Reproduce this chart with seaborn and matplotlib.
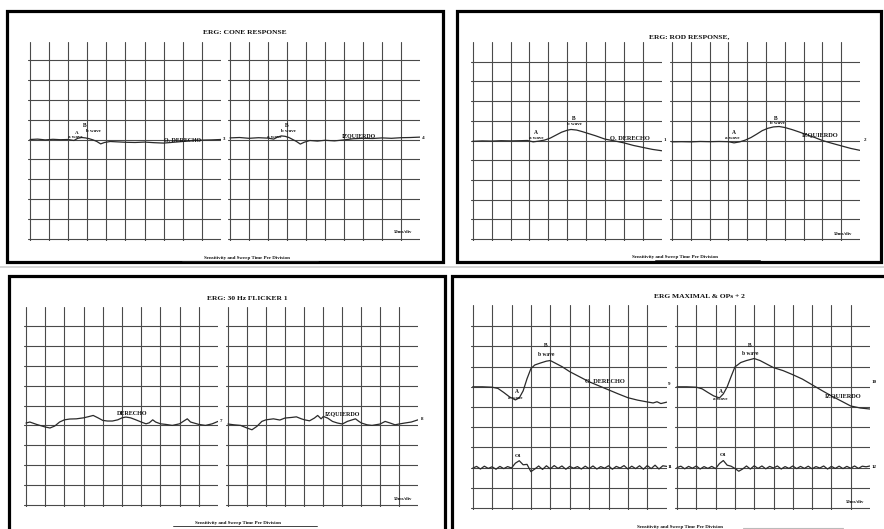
import matplotlib
matplotlib.use("Agg")
import matplotlib.pyplot as plt
import seaborn as sns
from matplotlib.patches import Rectangle
from matplotlib.lines import Line2D

# trace values, x in grid divisions, y in grid rows
cone_od_x = [0, 0.4, 0.8, 1.2, 1.6, 2.0, 2.3, 2.5, 2.7, 2.9, 3.1, 3.3, 3.5, 3.7, 3.9, 4.2, 4.6, 5.0, 5.5, 6.0, 6.5, 7.0, 7.5, 8.0, 8.5, 9.0, 9.5, 10.0]
cone_od_y = [5.0, 5.02, 4.98, 5.01, 4.99, 5.0, 4.95, 5.06, 5.1, 5.08, 5.04, 4.98, 4.9, 4.78, 4.85, 4.9, 4.88, 4.86, 4.85, 4.87, 4.84, 4.82, 4.86, 4.9, 4.95, 4.97, 4.98, 5.0]
cone_oi_x = [0, 0.5, 1.0, 1.5, 2.0, 2.3, 2.5, 2.7, 2.9, 3.1, 3.3, 3.5, 3.7, 3.9, 4.2, 4.6, 5.0, 5.5, 6.0, 6.5, 7.0, 7.5, 8.0, 8.5, 9.0, 9.5, 10.0]
cone_oi_y = [5.08, 5.1, 5.06, 5.09, 5.07, 5.02, 5.12, 5.18, 5.16, 5.1, 5.0, 4.9, 4.77, 4.86, 4.95, 4.92, 4.96, 4.93, 4.98, 5.04, 5.06, 5.05, 5.08, 5.06, 5.09, 5.1, 5.12]

rod_od_x = [0, 0.5, 1.0, 1.5, 2.0, 2.5, 2.9, 3.2, 3.5, 3.8, 4.1, 4.4, 4.7, 5.0, 5.2, 5.5, 5.8, 6.1, 6.5, 7.0, 7.5, 8.0, 8.5, 9.0, 9.5, 10.0]
rod_od_y = [4.96, 4.98, 4.97, 4.99, 4.98, 4.99, 5.0, 4.93, 4.97, 5.02, 5.12, 5.27, 5.42, 5.52, 5.56, 5.53, 5.45, 5.36, 5.24, 5.07, 4.98, 4.88, 4.75, 4.65, 4.55, 4.48]
rod_oi_x = [0, 0.5, 1.0, 1.5, 2.0, 2.5, 3.0, 3.3, 3.6, 3.9, 4.2, 4.5, 4.8, 5.1, 5.4, 5.7, 6.0, 6.4, 6.8, 7.2, 7.6, 8.0, 8.5, 9.0, 9.5, 10.0]
rod_oi_y = [4.93, 4.94, 4.93, 4.95, 4.94, 4.95, 4.94, 4.88, 4.93, 5.02, 5.15, 5.32, 5.5, 5.62, 5.69, 5.71, 5.66, 5.55, 5.42, 5.28, 5.15, 5.0, 4.86, 4.73, 4.6, 4.5]

flick_od_x = [0, 0.2, 0.55, 1.0, 1.25, 1.5, 1.75, 2.0, 2.28, 2.62, 3.0, 3.3, 3.5, 3.75, 4.0, 4.25, 4.5, 4.78, 5.0, 5.2, 5.45, 5.72, 6.0, 6.25, 6.42, 6.6, 6.75, 7.0, 7.28, 7.62, 8.0, 8.22, 8.4, 8.57, 9.0, 9.35, 9.7, 10.0]
flick_od_y = [4.12, 4.17, 4.05, 3.92, 3.87, 3.97, 4.17, 4.28, 4.32, 4.33, 4.38, 4.45, 4.5, 4.38, 4.25, 4.22, 4.22, 4.28, 4.38, 4.42, 4.38, 4.28, 4.17, 4.08, 4.13, 4.28, 4.17, 4.08, 4.05, 4.0, 4.08, 4.22, 4.33, 4.17, 4.05, 4.0, 4.08, 4.2]
flick_oi_x = [0, 0.31, 0.66, 1.0, 1.26, 1.52, 1.78, 2.0, 2.39, 2.73, 3.0, 3.34, 3.6, 3.86, 4.03, 4.29, 4.55, 4.72, 4.9, 5.02, 5.24, 5.5, 5.76, 6.02, 6.28, 6.54, 6.71, 6.89, 7.02, 7.32, 7.58, 8.01, 8.27, 8.53, 8.79, 9.0, 9.31, 9.65, 10.0]
flick_oi_y = [4.07, 4.03, 4.0, 3.87, 3.78, 3.95, 4.2, 4.28, 4.33, 4.27, 4.37, 4.4, 4.43, 4.33, 4.28, 4.23, 4.37, 4.5, 4.33, 4.45, 4.37, 4.2, 4.12, 4.07, 4.2, 4.28, 4.33, 4.2, 4.12, 4.03, 4.0, 4.07, 4.2, 4.12, 4.03, 4.07, 4.12, 4.17, 4.28]

max_od_x = [0, 0.5, 1.0, 1.3, 1.6, 1.9, 2.2, 2.4, 2.6, 2.8, 3.0, 3.2, 3.5, 3.8, 4.0, 4.3, 4.6, 5.0, 5.5, 6.0, 6.5, 7.0, 7.5, 8.0, 8.5, 9.0, 9.3, 9.5, 9.7, 10.0]
max_od_y = [6.0, 6.0, 5.98, 5.92, 5.72, 5.5, 5.35, 5.45, 5.8, 6.4, 6.9, 7.08, 7.18, 7.27, 7.3, 7.15, 7.0, 6.75, 6.5, 6.25, 6.05, 5.85, 5.65, 5.46, 5.34, 5.25, 5.2, 5.26, 5.17, 5.24]
max_oi_x = [0, 0.5, 1.0, 1.3, 1.6, 1.9, 2.2, 2.4, 2.6, 2.8, 3.0, 3.3, 3.6, 4.0, 4.3, 4.6, 5.0, 5.5, 6.0, 6.5, 7.0, 7.5, 8.0, 8.5, 9.0, 9.5, 10.0]
max_oi_y = [6.0, 6.0, 5.98, 5.9, 5.72, 5.55, 5.45, 5.65, 6.0, 6.5, 6.98, 7.2, 7.3, 7.4, 7.3, 7.15, 6.95, 6.8, 6.6, 6.38, 6.1, 5.82, 5.55, 5.3, 5.05, 4.95, 4.9]

ops_x = [i / 5 for i in range(51)]
ops_od_y = [1.97, 2.06, 1.93, 2.07, 1.96, 2.04, 1.92, 2.06, 1.95, 2.05,
            1.98, 2.22, 2.34, 2.14, 2.16, 1.8, 1.93, 2.08, 1.91, 2.09,
            1.94, 2.1, 1.96, 2.08, 1.92, 2.06, 1.97, 2.05, 1.93, 2.07,
            1.95, 2.08, 1.93, 2.05, 1.97, 2.09, 1.92, 2.06, 1.98, 2.1,
            1.93, 2.07, 1.95, 2.09, 1.92, 2.1, 1.95, 2.12, 1.93, 2.09, 2.06]
ops_oi_y = [2.0, 2.07, 1.94, 2.06, 1.97, 2.08, 1.93, 2.05, 1.96, 2.06,
            1.95, 2.2, 2.35, 2.12, 2.07, 1.96, 1.82, 1.93, 2.08, 1.93,
            2.09, 1.96, 2.08, 1.94, 2.06, 1.98, 2.08, 1.93, 2.05, 1.96,
            2.08, 1.95, 2.06, 1.96, 2.07, 1.94, 2.05, 1.98, 2.08, 1.93,
            2.06, 1.96, 2.07, 1.95, 2.06, 1.97, 2.08, 1.96, 2.07, 2.04, 2.08]

titles = ["ERG: CONE RESPONSE", "ERG: ROD RESPONSE,", "ERG: 30 Hz FLICKER 1", "ERG MAXIMAL & OPs + 2"]
footer = "Sensitivity and Sweep Time Per Division"
scale_lbl = "50ms/div"

sns.set_style("white")
plt.rcParams['font.family'] = ['Liberation Serif', 'DejaVu Serif']

W, H = 884, 529
fig = plt.figure(figsize=(8.84, 5.29), dpi=100)
fig.patch.set_facecolor("white")
INK = "#2a2a2a"


def fx(x):
    return x / W


def fy(y):
    return 1 - y / H


def grid_axes(x0, dx, y0, dy, top):
    # one chart-paper grid, 10 columns wide, pixel geometry from the scan
    pad = 0.08
    ytop = (y0 - top) / dy
    ax = fig.add_axes([fx(x0 - pad * dx), fy(y0 + pad * dy),
                       (10 + pad) * dx / W, (ytop + pad) * dy / H])
    ax.set_xlim(-pad, 10)
    ax.set_ylim(-pad, ytop)
    ax.set_xticks(range(10))
    ax.set_yticks(range(10))
    ax.grid(True, color="#4a4a4a", lw=0.8)
    ax.tick_params(length=0, labelbottom=False, labelleft=False)
    for s in ax.spines.values():
        s.set_visible(False)
    ax.patch.set_alpha(0)
    return ax


def trace(ax, xs, ys):
    sns.lineplot(x=xs, y=ys, ax=ax, color=INK, lw=0.9, estimator=None, sort=False)
    ax.set_xlabel("")
    ax.set_ylabel("")


def txt(ax, x, y, s, size=3.6, ha="center"):
    ax.text(x, y, s, fontsize=size, ha=ha, va="center", color="#111",
            fontweight="bold", clip_on=False)


# panel frames
for (x0, y0, x1, y1) in [(7.5, 10.5, 442.5, 262), (456.5, 10.5, 881, 262),
                         (8.5, 276, 445, 540), (452, 276, 890, 540)]:
    fig.add_artist(Rectangle((fx(x0), fy(y1)), fx(x1 - x0), (y1 - y0) / H,
                             transform=fig.transFigure, fill=False, ec="black", lw=2.3))
fig.add_artist(Line2D([0, 1], [fy(267), fy(267)], transform=fig.transFigure, color="#cfcfcf", lw=1.2))

# cone
a = grid_axes(30, 19.1, 239, 19.9, 42)
b = grid_axes(230, 19.0, 239, 19.9, 42)
trace(a, cone_od_x, cone_od_y)
trace(b, cone_oi_x, cone_oi_y)
txt(a, 2.85, 5.68, "B", 4)
txt(a, 3.3, 5.42, "b wave")
txt(a, 2.45, 5.35, "A", 3.6)
txt(a, 2.35, 5.15, "a wave")
txt(a, 8.0, 4.95, "O. DERECHO", 4.2)
txt(a, 10.15, 5.02, "3")
txt(b, 3.0, 5.7, "B", 4)
txt(b, 3.1, 5.42, "b wave")
txt(b, 2.35, 5.15, "a wave")
txt(b, 6.8, 5.2, "IZQUIERDO", 4.2)
txt(b, 10.15, 5.1, "4")
txt(b, 9.1, 0.35, scale_lbl, 3.4)

# rod
a = grid_axes(472.7, 18.9, 239, 19.7, 42)
b = grid_axes(672, 18.8, 239, 19.7, 42)
trace(a, rod_od_x, rod_od_y)
trace(b, rod_oi_x, rod_oi_y)
txt(a, 3.33, 5.4, "A", 4)
txt(a, 3.35, 5.15, "a wave")
txt(a, 5.33, 6.1, "B", 4)
txt(a, 5.4, 5.82, "b wave")
txt(a, 8.3, 5.1, "O. DERECHO", 4.6)
txt(a, 10.15, 5.05, "1")
txt(b, 3.3, 5.4, "A", 4)
txt(b, 3.2, 5.12, "a wave")
txt(b, 5.5, 6.12, "B", 4)
txt(b, 5.6, 5.87, "b wave")
txt(b, 7.9, 5.3, "IZQUIERDO", 4.6)
txt(b, 10.25, 5.05, "2")
txt(b, 9.1, 0.25, scale_lbl, 3.4)

# flicker
a = grid_axes(26, 19.2, 505, 19.9, 307)
b = grid_axes(228, 19.0, 505, 19.9, 307)
trace(a, flick_od_x, flick_od_y)
trace(b, flick_oi_x, flick_oi_y)
txt(a, 5.55, 4.58, "DERECHO", 4.4)
txt(a, 10.15, 4.2, "7")
txt(b, 6.0, 4.6, "IZQUIERDO", 4.4)
txt(b, 10.2, 4.3, "8")
txt(b, 9.2, 0.3, scale_lbl, 3.4)

# maximal + OPs
a = grid_axes(472.7, 19.4, 508, 20.2, 305)
b = grid_axes(677, 19.3, 508, 20.2, 305)
trace(a, max_od_x, max_od_y)
trace(b, max_oi_x, max_oi_y)
trace(a, ops_x, ops_od_y)
trace(b, ops_x, ops_oi_y)
txt(a, 3.78, 8.02, "B", 4)
txt(a, 3.78, 7.6, "b wave", 4)
txt(a, 2.28, 5.78, "A", 4)
txt(a, 2.2, 5.45, "a wave")
txt(a, 6.8, 6.25, "O. DERECHO", 4.6)
txt(a, 10.15, 6.15, "9")
txt(a, 2.35, 2.58, "O1", 3.8)
txt(a, 10.15, 2.02, "11")
txt(b, 3.77, 8.05, "B", 4)
txt(b, 3.8, 7.65, "b wave", 4)
txt(b, 2.3, 5.78, "A", 4)
txt(b, 2.27, 5.42, "a wave")
txt(b, 8.6, 5.55, "IZQUIERDO", 4.6)
txt(b, 10.2, 6.25, "10")
txt(b, 2.4, 2.62, "O1", 3.8)
txt(b, 10.2, 2.02, "12")
txt(b, 9.2, 0.3, scale_lbl, 3.4)

# titles and footers
for (x, y, s) in [(245, 33, titles[0]), (689, 37, titles[1]), (247, 298, titles[2]), (699, 297, titles[3])]:
    fig.text(fx(x), fy(y), s, fontsize=5.4, ha="center", va="center", color="#111", fontweight="bold")
for (x, y, l0, l1) in [(247, 258, 182, 318), (675, 257, 655, 760), (238, 523, 173, 317), (680, 527, 660, 700)]:
    fig.text(fx(x), fy(y), footer, fontsize=3.6, ha="center", va="center", color="#111", fontweight="bold")
    fig.add_artist(Line2D([fx(l0), fx(l1)], [fy(y + 3), fy(y + 3)], transform=fig.transFigure, color="#222", lw=0.6))
fig.add_artist(Line2D([fx(743), fx(843)], [fy(528), fy(528)], transform=fig.transFigure, color="#bbb", lw=0.8))

fig.savefig("out.png", dpi=100, facecolor="white")
